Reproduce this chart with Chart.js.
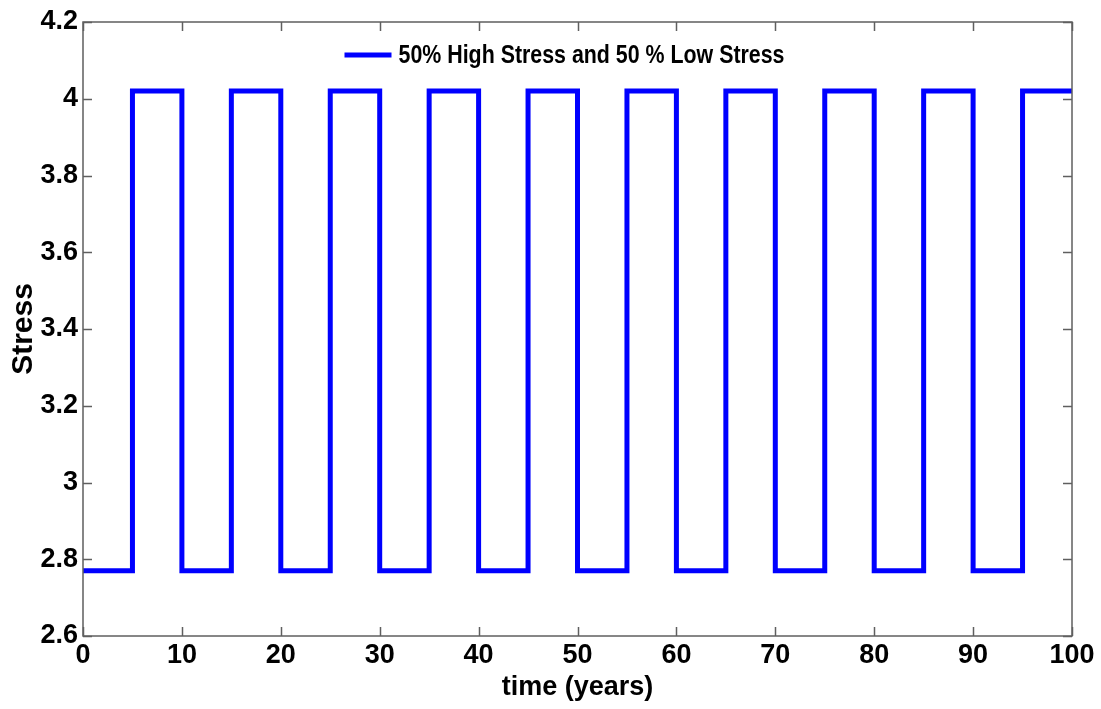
<!DOCTYPE html>
<html>
<head>
<meta charset="utf-8">
<script src="https://cdn.jsdelivr.net/npm/chart.js@4/dist/chart.umd.min.js"></script>
<style>
  html, body { margin: 0; padding: 0; background: #fff; }
  #wrap { width: 1101px; height: 709px; }
</style>
</head>
<body>
<div id="wrap"><canvas id="c" width="1101" height="709"></canvas></div>
<script>
// --- data ---
const years = [0, 5, 10, 15, 20, 25, 30, 35, 40, 45, 50, 55, 60, 65, 70, 75, 80, 85, 90, 95, 100];
const stress = [2.77, 4.02, 2.77, 4.02, 2.77, 4.02, 2.77, 4.02, 2.77, 4.02, 2.77,
                4.02, 2.77, 4.02, 2.77, 4.02, 2.77, 4.02, 2.77, 4.02, 4.02];
const seriesLabel = '50% High Stress and 50 % Low Stress';
const xTitle = 'time (years)';
const yTitle = 'Stress';

const FONT = '"Liberation Sans Narrow", "Arial Narrow", "Liberation Sans", Arial, sans-serif';
const AXIS_COLOR = '#5f5f5f';

// box + inward ticks, matlab style
const frame = {
    id: 'frame',
    afterDatasetsDraw(chart) {
        const { ctx, chartArea: a, scales } = chart;
        ctx.save();
        ctx.strokeStyle = AXIS_COLOR;
        ctx.lineWidth = 1.5;
        ctx.strokeRect(a.left, a.top, a.right - a.left, a.bottom - a.top);
        const len = 9;
        ctx.beginPath();
        scales.x.ticks.forEach(t => {
            const px = Math.round(scales.x.getPixelForValue(t.value)) + 0.5;
            ctx.moveTo(px, a.bottom); ctx.lineTo(px, a.bottom - len);
            ctx.moveTo(px, a.top); ctx.lineTo(px, a.top + len);
        });
        scales.y.ticks.forEach(t => {
            const py = Math.round(scales.y.getPixelForValue(t.value)) + 0.5;
            ctx.moveTo(a.left, py); ctx.lineTo(a.left + len, py);
            ctx.moveTo(a.right, py); ctx.lineTo(a.right - len, py);
        });
        ctx.stroke();
        ctx.restore();
    },
    afterDraw(chart) {
        // legend inside plot, top centre (text squeezed like the narrow font)
        const { ctx, chartArea: a } = chart;
        ctx.save();
        ctx.font = 'bold 26px ' + FONT;
        const squeeze = 386 / ctx.measureText(seriesLabel).width;
        const tw = 386;
        const lineW = 47, gap = 7;
        const total = lineW + gap + tw;
        const cx = (a.left + a.right) / 2 - 13;
        const x0 = cx - total / 2;
        const y = a.top + 33;
        ctx.strokeStyle = '#0000ff';
        ctx.lineWidth = 5;
        ctx.beginPath();
        ctx.moveTo(x0, y); ctx.lineTo(x0 + lineW, y);
        ctx.stroke();
        ctx.fillStyle = '#000';
        ctx.textBaseline = 'middle';
        ctx.translate(x0 + lineW + gap, y + 1);
        ctx.scale(Math.min(1, squeeze), 1);
        ctx.fillText(seriesLabel, 0, 0);
        ctx.restore();
    }
};

new Chart(document.getElementById('c'), {
    type: 'line',
    data: {
        datasets: [{
            label: seriesLabel,
            data: years.map((x, i) => ({ x, y: stress[i] })),
            stepped: 'before',
            borderColor: '#0000ff',
            borderWidth: 5,
            pointRadius: 0,
            fill: false,
            borderCapStyle: 'square',
            borderJoinStyle: 'miter'
        }]
    },
    options: {
        responsive: false,
        animation: false,
        layout: { padding: { top: 22, right: 29, left: 0, bottom: 0 } },
        plugins: { legend: { display: false }, tooltip: { enabled: false } },
        scales: {
            x: {
                type: 'linear', min: 0, max: 100,
                ticks: { stepSize: 10, color: '#000', padding: 3, maxRotation: 0,
                         font: { family: FONT, size: 27, weight: 'bold' } },
                grid: { display: false, drawTicks: false },
                border: { display: false },
                title: { display: true, text: xTitle, color: '#000', padding: { top: 0, bottom: 5 },
                         font: { family: FONT, size: 27, weight: 'bold' } },
                afterFit(s) { s.height = 73; }
            },
            y: {
                min: 2.6, max: 4.2,
                ticks: { stepSize: 0.2, color: '#000', padding: 5,
                         font: { family: FONT, size: 27, weight: 'bold' },
                         callback: v => String(+v.toFixed(1)) },
                grid: { display: false, drawTicks: false },
                border: { display: false },
                title: { display: true, text: yTitle, color: '#000', padding: { top: 6, bottom: 0 },
                         font: { family: FONT, size: 30, weight: 'bold' } },
                afterFit(s) { s.width = 83; }
            }
        }
    },
    plugins: [frame]
});
</script>
</body>
</html>
